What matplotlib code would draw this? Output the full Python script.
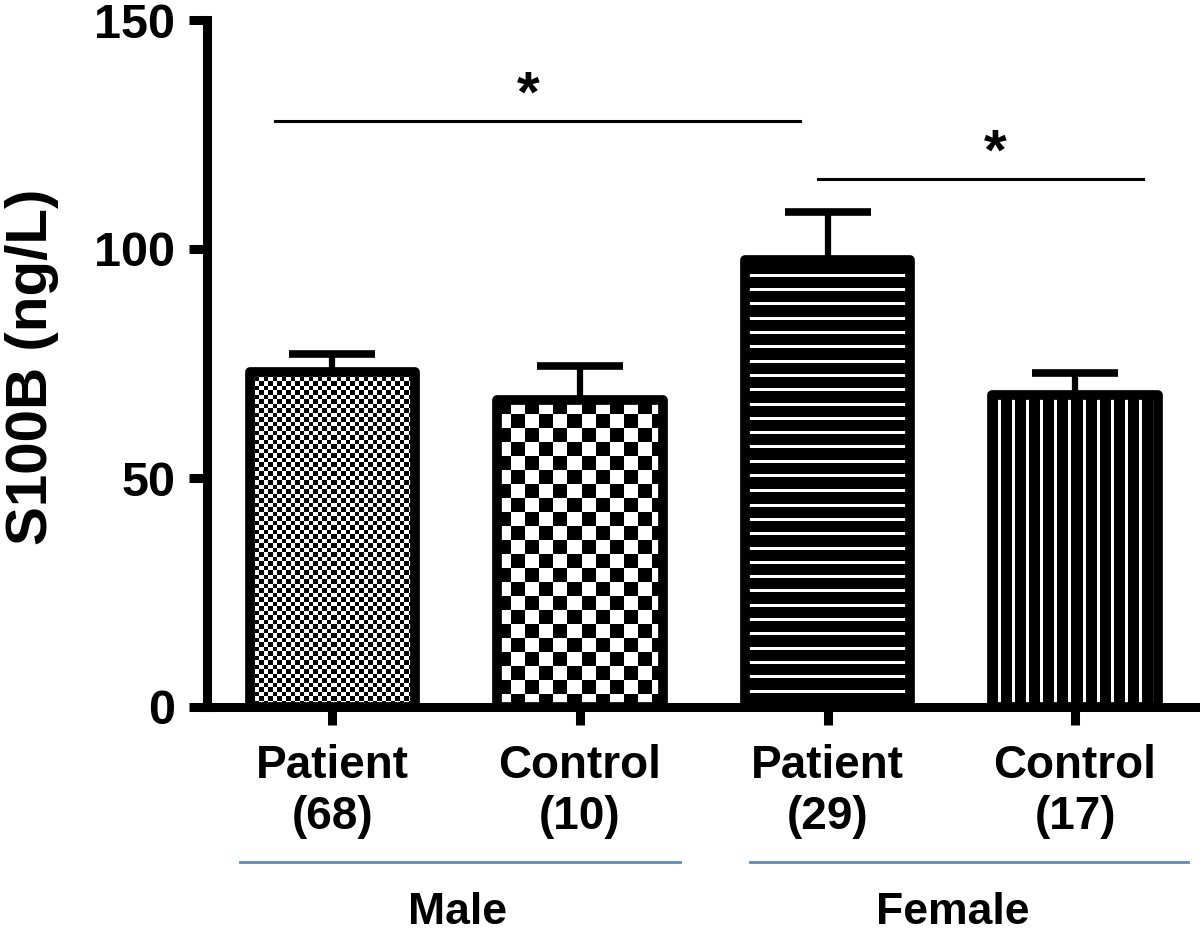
import numpy as np
import matplotlib
matplotlib.use('Agg')
import matplotlib.pyplot as plt

plt.rcParams['font.family'] = ['Liberation Sans', 'DejaVu Sans']
plt.rcParams['font.weight'] = 'bold'

# Datos
categories = ['Patient\n(68)', 'Control\n(10)', 'Patient\n(29)', 'Control\n(17)']
groups = ['Male', 'Female']
means = [73.1, 67.0, 97.6, 68.1]
sems = [4.0, 7.5, 10.5, 4.8]
yticks = [0, 50, 100, 150]
# líneas de significancia: extremos x, altura, posición del asterisco
sig_x = [(-0.232, 1.889), (1.962, 3.275)]
sig_h = [128, 115.3]
star_x = [0.79, 2.677]

fig = plt.figure(figsize=(12, 9.43), dpi=100)
ax = fig.add_axes([207/1200, 1-707/943, 993/1200, 687/943])
ax.set_xlim(-0.507, 3.505)
ax.set_ylim(0, 150)

x = np.arange(len(categories))
width = 0.667

# barras base en blanco
bars = ax.bar(x, means, width=width, color='white', edgecolor='none', zorder=1)

# patrones de relleno (en píxeles)
def pattern(kind, wpx, hpx):
    ny, nx = int(round(hpx)), int(round(wpx))
    yy, xx = np.mgrid[0:ny, 0:nx]
    if kind == 'fine':
        c = 4.5
        return ((xx // c + yy // c) % 2).astype(float)
    if kind == 'coarse':
        c = 14
        return ((xx // c + yy // c) % 2).astype(float)
    if kind == 'hlines':
        return ((yy % 14.3) < 3).astype(float)
    return (((xx + 8) % 14) < 3).astype(float)

kinds = ['fine', 'coarse', 'hlines', 'vlines']
fig.canvas.draw()
for b, kind in zip(bars, kinds):
    x0, y0 = b.get_x(), 0
    x1, y1 = b.get_x() + b.get_width(), b.get_height()
    (px0, py0), (px1, py1) = ax.transData.transform([(x0, y0), (x1, y1)])
    arr = pattern(kind, px1 - px0, py1 - py0)
    im = ax.imshow(arr, cmap='gray', vmin=0, vmax=1, extent=(x0, x1, y0, y1),
                   aspect='auto', interpolation='nearest', zorder=2)
    im.set_clip_path(b)

# bordes
ax.bar(x, means, width=width, fill=False, edgecolor='black', linewidth=7,
       joinstyle='round', zorder=3)

# barras de error (solo hacia arriba)
ax.errorbar(x, means, yerr=[np.zeros(len(sems)), sems], fmt='none', ecolor='black',
            elinewidth=4.5, capsize=31, capthick=5.5, zorder=0)

ax.set_xlim(-0.507, 3.505)
ax.set_ylim(0, 150)

# significancia
for xs, h, sx in zip(sig_x, sig_h, star_x):
    ax.plot(xs, [h, h], color='black', lw=2.2, clip_on=False)
    ax.text(sx, h - 0.6, '*', ha='center', va='bottom', fontsize=42,
            fontweight='bold')

# ejes
for s in ['top', 'right']:
    ax.spines[s].set_visible(False)
for s in ['left', 'bottom']:
    ax.spines[s].set_linewidth(6.5)
    ax.spines[s].set_capstyle('projecting')
ax.set_yticks(yticks)
ax.set_xticks(x)
ax.set_xticklabels(categories, fontsize=33, fontweight='bold')
ax.tick_params(axis='both', length=13, width=6.5, direction='out')
ax.tick_params(axis='y', labelsize=35, pad=10)
ax.tick_params(axis='x', pad=14)
for t in ax.get_yticklabels():
    t.set_fontweight('bold')

fig.text(32/1200, 1-367/943, 'S100B (ng/L)', rotation=90, ha='center', va='center',
         fontsize=42, fontweight='bold')

# grupos
ax.plot([-0.374, 1.404], [-33.8, -33.8], color='#5b8bc4', lw=2, clip_on=False)
ax.plot([1.687, 3.455], [-33.8, -33.8], color='#5b8bc4', lw=2, clip_on=False)
for gx, g in zip([0.507, 2.507], groups):
    ax.text(gx, -44.8, g, ha='center', va='center', fontsize=32, fontweight='bold',
            clip_on=False)

fig.savefig('out.png', dpi=100)
